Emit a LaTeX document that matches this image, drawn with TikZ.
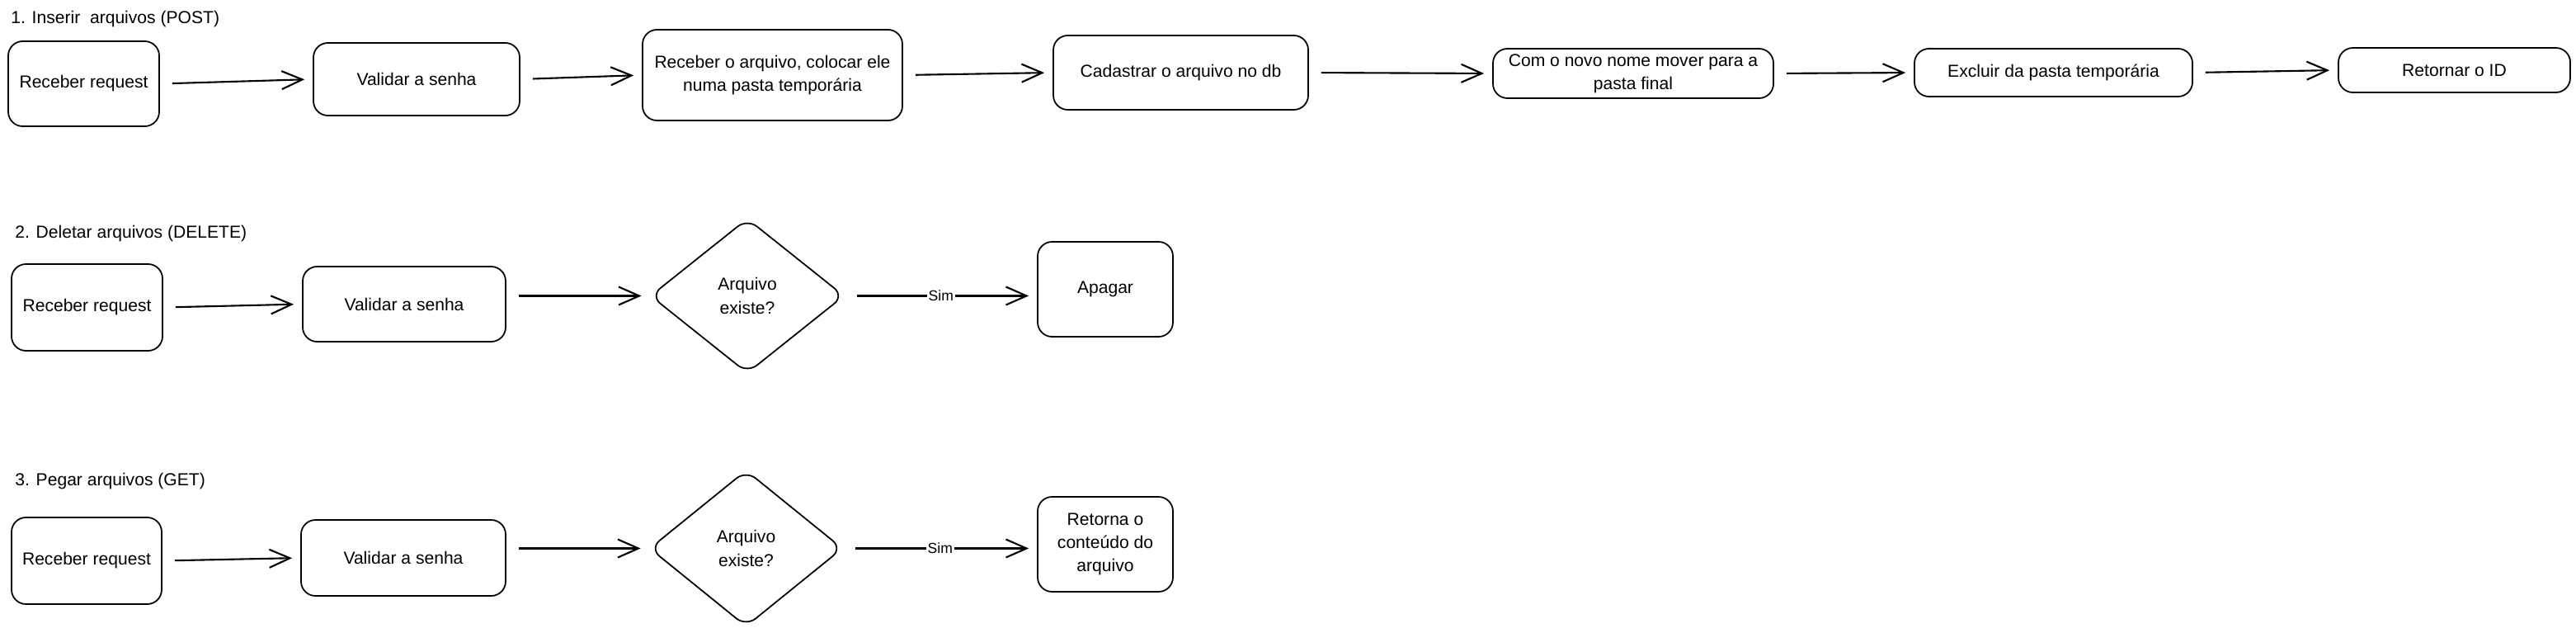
\documentclass[tikz,border=0pt]{standalone}
\usepackage{fontspec}
\setmainfont{Liberation Sans}
\usepackage{tikz}
\usetikzlibrary{positioning,shapes.geometric,arrows.meta}

\tikzset{
  caixa/.style={draw=black, line width=1pt, rounded corners=0.35cm, align=center, inner sep=2pt, font=\fontsize{12}{16}\selectfont},
  losango/.style={draw=black, line width=1pt, diamond, rounded corners=0.3cm, align=center, inner sep=0pt, font=\fontsize{12}{16}\selectfont},
  titulo/.style={anchor=west, inner sep=0pt, font=\fontsize{12}{14}\selectfont},
  seta/.style={black, line width=1.2pt, -{Straight Barb[length=0.5cm,width=0.44cm,line width=1.2pt]}, shorten <=0.3cm, shorten >=0.2cm},
  rotulo/.style={fill=white, inner sep=1pt, font=\fontsize{10}{11}\selectfont}
}

\begin{document}
\begin{tikzpicture}
         \useasboundingbox (0,0) rectangle (62.46,-15.32);

         \node[titulo] (t1) at (0.26,-0.46) {1. Inserir\ \ arquivos (POST)};
         \node[caixa, minimum width=3.66cm, minimum height=2.06cm] (b1) at (2.03,-2.03) {Receber request};
         \node[caixa, minimum width=5cm, minimum height=1.76cm] (b2) at (10.1,-1.92) {Validar a senha};
         \node[caixa, minimum width=6.3cm, minimum height=2.2cm] (b3) at (18.73,-1.82) {Receber o arquivo, colocar ele\\numa pasta temporária};
         \node[caixa, minimum width=6.18cm, minimum height=1.8cm] (b4) at (28.63,-1.76) {Cadastrar o arquivo no db};
         \node[caixa, minimum width=6.8cm, minimum height=1.2cm] (b5) at (39.6,-1.78) {Com o novo nome mover para a\\pasta final};
         \node[caixa, minimum width=6.74cm, minimum height=1.16cm] (b6) at (49.79,-1.76) {Excluir da pasta temporária};
         \node[caixa, minimum width=5.62cm, minimum height=1.08cm] (b7) at (59.51,-1.7) {Retornar o ID};

         \draw[seta] (b1.east) -- (b2.west);
         \draw[seta] (b2.east) -- (b3.west);
         \draw[seta] (b3.east) -- (b4.west);
         \draw[seta] (b4.east) -- (b5.west);
         \draw[seta] (b5.east) -- (b6.west);
         \draw[seta] (b6.east) -- (b7.west);

         \node[titulo] (t2) at (0.36,-5.66) {2. Deletar arquivos (DELETE)};
         \node[caixa, minimum width=3.66cm, minimum height=2.1cm] (c1) at (2.11,-7.45) {Receber request};
         \node[caixa, minimum width=4.92cm, minimum height=1.82cm] (c2) at (9.8,-7.37) {Validar a senha};
         \node[losango, minimum width=4.7cm, minimum height=3.75cm] (c3) at (18.12,-7.17) {Arquivo\\existe?};
         \node[caixa, minimum width=3.28cm, minimum height=2.3cm] (c4) at (26.8,-7.01) {Apagar};

         \draw[seta] (c1.east) -- (c2.west);
         \draw[seta] (c2.east |- c3.west) -- (c3.west);
         \draw[seta] (c3.east) -- (c3.east -| c4.west) node[rotulo, pos=0.5] {Sim};

         \node[titulo] (t3) at (0.36,-11.66) {3. Pegar arquivos (GET)};
         \node[caixa, minimum width=3.64cm, minimum height=2.1cm] (d1) at (2.1,-13.59) {Receber request};
         \node[caixa, minimum width=4.96cm, minimum height=1.84cm] (d2) at (9.78,-13.52) {Validar a senha};
         \node[losango, minimum width=4.68cm, minimum height=3.79cm] (d3) at (18.09,-13.29) {Arquivo\\existe?};
         \node[caixa, minimum width=3.28cm, minimum height=2.3cm] (d4) at (26.8,-13.19) {Retorna o\\conteúdo do\\arquivo};

         \draw[seta] (d1.east) -- (d2.west);
         \draw[seta] (d2.east |- d3.west) -- (d3.west);
         \draw[seta] (d3.east) -- (d3.east -| d4.west) node[rotulo, pos=0.5] {Sim};
\end{tikzpicture}
\end{document}
